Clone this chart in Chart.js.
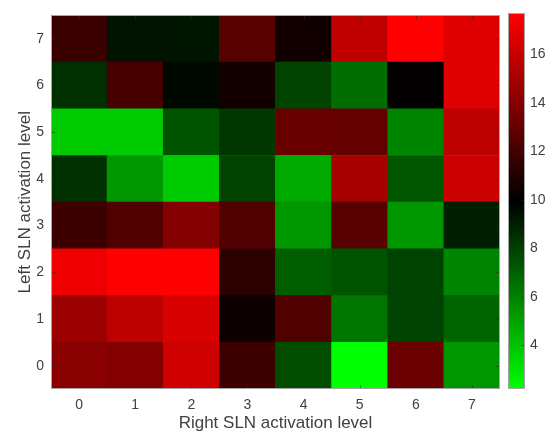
<!DOCTYPE html>
<html>
<head>
<meta charset="utf-8">
<script src="https://cdn.jsdelivr.net/npm/chart.js@4.4.1/dist/chart.umd.min.js"></script>
<style>
  body { margin: 0; background: #fff; }
  #wrap { position: relative; width: 554px; height: 436px; }
  canvas { position: absolute; top: 0; }
  #heat { left: 0; }
  #cbar { left: 500px; }
</style>
</head>
<body>
<div id="wrap">
  <canvas id="heat" width="505" height="436"></canvas>
  <canvas id="cbar" width="54" height="436"></canvas>
</div>
<script>
// Heatmap: left SLN level (rows) vs right SLN level (columns)
const rightLevels = ['0', '1', '2', '3', '4', '5', '6', '7'];
const leftLevels = [0, 1, 2, 3, 4, 5, 6, 7];
const colorbarTicks = [4, 6, 8, 10, 12, 14, 16];

// one array per left level, values across right levels 0..7
const row0 = [14.1, 13.9, 16.2, 11.8, 7.6, 2.2, 13.2, 5.4];
const row1 = [14.7, 15.7, 16.5, 10.3, 12.4, 6.4, 7.9, 6.9];
const row2 = [17.2, 17.7, 17.7, 11.3, 7.1, 7.4, 7.9, 5.9];
const row3 = [11.8, 12.4, 13.9, 12.4, 5.4, 12.6, 5.4, 9.0];
const row4 = [8.5, 5.4, 3.8, 7.9, 4.8, 15.0, 7.3, 16.1];
const row5 = [3.8, 3.8, 7.4, 8.3, 13.1, 13.0, 5.9, 15.7];
const row6 = [8.5, 12.1, 9.7, 10.5, 7.9, 6.6, 10.0, 16.7];
const row7 = [11.7, 9.4, 9.3, 12.6, 10.5, 15.8, 17.7, 16.7];
const rows = [row0, row1, row2, row3, row4, row5, row6, row7];

const allValues = rows.flat();
const cMin = Math.min(...allValues);
const cMax = Math.max(...allValues);
const cMid = (cMin + cMax) / 2;

// green -> black -> red colormap
function colorFor(v) {
  if (v >= cMid) {
    const r = Math.round(255 * Math.min(1, (v - cMid) / (cMax - cMid)));
    return `rgb(${r},0,0)`;
  }
  const g = Math.round(255 * Math.min(1, (cMid - v) / (cMid - cMin)));
  return `rgb(0,${g},0)`;
}

const textColor = '#404040';
const fontFamily = 'Helvetica, Arial, "Liberation Sans", sans-serif';

// box outline plus small inward tick marks (MATLAB style)
const boxPlugin = {
  id: 'boxPlugin',
  afterDraw(chart, args, opts) {
    const { ctx, chartArea: a } = chart;
    ctx.save();
    if (opts.innerTicks) {
      ctx.strokeStyle = 'rgba(40,40,40,0.55)';
      ctx.lineWidth = 1;
      const len = 4;
      const xs = chart.scales.x;
      const ys = chart.scales.y;
      if (opts.xTicks) {
        xs.ticks.forEach((t, i) => {
          const px = Math.round(xs.getPixelForTick(i)) + 0.5;
          ctx.beginPath();
          ctx.moveTo(px, a.top); ctx.lineTo(px, a.top + len);
          ctx.moveTo(px, a.bottom); ctx.lineTo(px, a.bottom - len);
          ctx.stroke();
        });
      }
      ys.ticks.forEach(t => {
        const py = Math.round(ys.getPixelForValue(t.value)) + 0.5;
        ctx.beginPath();
        if (opts.leftTicks) { ctx.moveTo(a.left, py); ctx.lineTo(a.left + len, py); }
        ctx.moveTo(a.right, py); ctx.lineTo(a.right - len, py);
        ctx.stroke();
      });
    }
    ctx.strokeStyle = '#a6a6a6';
    ctx.lineWidth = 1;
    ctx.strokeRect(Math.round(a.left) + 0.5, Math.round(a.top) + 0.5,
      Math.round(a.right - a.left) - 1, Math.round(a.bottom - a.top) - 1);
    ctx.restore();
  }
};

const heatDatasets = leftLevels.map((lvl, r) => ({
  label: 'Left ' + lvl,
  data: rows[r].map(() => [lvl - 0.5, lvl + 0.5]),
  values: rows[r],
  backgroundColor: rows[r].map(colorFor),
  borderWidth: 0,
  barPercentage: 1,
  categoryPercentage: 1
}));

new Chart(document.getElementById('heat'), {
  type: 'bar',
  data: { labels: rightLevels, datasets: heatDatasets },
  options: {
    responsive: false,
    animation: false,
    layout: { padding: { top: 7, right: 5, left: 0, bottom: 0 } },
    plugins: {
      legend: { display: false },
      tooltip: { enabled: false },
      boxPlugin: { innerTicks: true, xTicks: true, leftTicks: true }
    },
    scales: {
      x: {
        stacked: true,
        grid: { display: false, drawTicks: false },
        border: { display: false },
        ticks: { color: textColor, font: { family: fontFamily, size: 14 }, padding: 8 },
        title: {
          display: true, text: 'Right SLN activation level', color: textColor,
          font: { family: fontFamily, size: 17 }, padding: { top: 0, bottom: 2 }
        },
        afterFit: s => { s.height = 47; }
      },
      y: {
        min: -0.5,
        max: 7.5,
        grid: { display: false, drawTicks: false },
        border: { display: false },
        afterBuildTicks: s => { s.ticks = leftLevels.map(v => ({ value: v })); },
        ticks: { color: textColor, font: { family: fontFamily, size: 14 }, padding: 7 },
        title: {
          display: true, text: 'Left SLN activation level', color: textColor,
          font: { family: fontFamily, size: 17 }, padding: { top: 15, bottom: 0 }
        },
        afterFit: s => { s.width = 51; }
      }
    }
  },
  plugins: [boxPlugin]
});

// colorbar
new Chart(document.getElementById('cbar'), {
  type: 'bar',
  data: {
    labels: ['c'],
    datasets: [{
      data: [[cMin, cMax]],
      borderWidth: 0,
      barPercentage: 1,
      categoryPercentage: 1,
      backgroundColor: ctx => {
        const y = ctx.chart.scales.y;
        if (!y || !ctx.chart.chartArea) return 'black';
        const g = ctx.chart.ctx.createLinearGradient(0, y.getPixelForValue(cMin), 0, y.getPixelForValue(cMax));
        g.addColorStop(0, 'rgb(0,255,0)');
        g.addColorStop(0.5, 'rgb(0,0,0)');
        g.addColorStop(1, 'rgb(255,0,0)');
        return g;
      }
    }]
  },
  options: {
    responsive: false,
    animation: false,
    layout: { padding: { top: 7, left: 8, right: 0, bottom: 47 } },
    plugins: {
      legend: { display: false },
      tooltip: { enabled: false },
      boxPlugin: { innerTicks: true, xTicks: false, leftTicks: false }
    },
    scales: {
      x: { display: false },
      y: {
        position: 'right',
        min: cMin,
        max: cMax,
        grid: { display: false, drawTicks: false },
        border: { display: false },
        afterBuildTicks: s => { s.ticks = colorbarTicks.map(v => ({ value: v })); },
        ticks: { color: textColor, font: { family: fontFamily, size: 14 }, padding: 5 },
        afterFit: s => { s.width = 29; }
      }
    }
  },
  plugins: [boxPlugin]
});
</script>
</body>
</html>
